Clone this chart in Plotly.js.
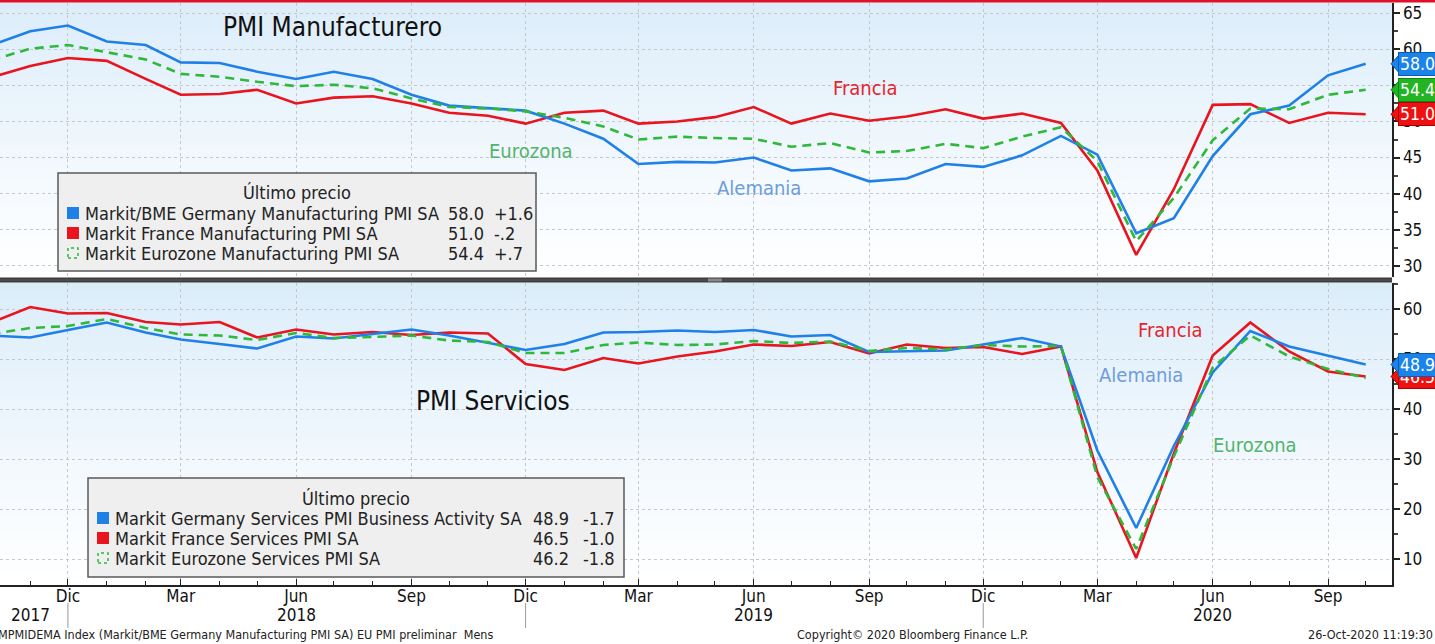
<!DOCTYPE html>
<html><head><meta charset="utf-8">
<script src="https://cdn.plot.ly/plotly-3.0.1.min.js"></script>
<style>html,body{margin:0;padding:0;background:#fff;overflow:hidden}</style>
</head><body><div id="chart" style="width:1435px;height:644px"></div>
<script>
// ---------- DATA ----------
const months = ['2017-10-01','2017-11-01','2017-12-01',
 '2018-01-01','2018-02-01','2018-03-01','2018-04-01','2018-05-01','2018-06-01','2018-07-01','2018-08-01','2018-09-01','2018-10-01','2018-11-01','2018-12-01',
 '2019-01-01','2019-02-01','2019-03-01','2019-04-01','2019-05-01','2019-06-01','2019-07-01','2019-08-01','2019-09-01','2019-10-01','2019-11-01','2019-12-01',
 '2020-01-01','2020-02-01','2020-03-01','2020-04-01','2020-05-01','2020-06-01','2020-07-01','2020-08-01','2020-09-01','2020-10-01'];

const germanyMfg  = [60.6,62.5,63.3, 61.1,60.6,58.2,58.1,56.9,55.9,56.9,55.9,53.7,52.2,51.8,51.5, 49.7,47.6,44.1,44.4,44.3,45.0,43.2,43.5,41.7,42.1,44.1,43.7, 45.3,48.0,45.4,34.5,36.6,45.2,51.0,52.2,56.4,58.0];
const franceMfg   = [56.1,57.7,58.8, 58.4,55.9,53.7,53.8,54.4,52.5,53.3,53.5,52.5,51.2,50.8,49.7, 51.2,51.5,49.7,50.0,50.6,52.0,49.7,51.1,50.1,50.7,51.7,50.4, 51.1,49.8,43.2,31.5,40.6,52.3,52.4,49.8,51.2,51.0];
const eurozoneMfg = [58.5,60.1,60.6, 59.6,58.6,56.6,56.2,55.5,54.9,55.1,54.6,53.2,52.0,51.8,51.4, 50.5,49.3,47.5,47.9,47.7,47.6,46.5,47.0,45.7,45.9,46.9,46.3, 47.9,49.2,44.5,33.4,39.4,47.4,51.8,51.7,53.7,54.4];

const germanySvc  = [54.7,54.3,55.8, 57.3,55.3,53.9,53.0,52.1,54.5,54.1,55.0,55.9,54.7,53.3,51.8, 53.0,55.3,55.4,55.7,55.4,55.8,54.5,54.8,51.4,51.6,51.7,52.9, 54.2,52.5,31.7,16.2,32.6,47.3,55.6,52.5,50.6,48.9];
const franceSvc   = [57.3,60.4,59.1, 59.2,57.4,56.9,57.4,54.3,55.9,54.9,55.4,54.8,55.3,55.1,49.0, 47.8,50.2,49.1,50.5,51.5,52.9,52.6,53.4,51.1,52.9,52.2,52.4, 51.0,52.5,27.4,10.2,31.1,50.7,57.3,51.5,47.5,46.5];
const eurozoneSvc = [55.0,56.2,56.6, 58.0,56.2,54.9,54.7,53.8,55.2,54.2,54.4,54.7,53.7,53.4,51.2, 51.2,52.8,53.3,52.8,52.9,53.6,53.2,53.5,51.6,52.2,51.9,52.8, 52.5,52.6,26.4,12.0,30.5,48.3,54.7,50.5,48.0,46.2];

const mfgNames = ['Markit/BME Germany Manufacturing PMI SA','Markit France Manufacturing PMI SA','Markit Eurozone Manufacturing PMI SA'];
const mfgLast  = ['58.0','51.0','54.4'];
const mfgChg   = ['+1.6','-.2','+.7'];
const svcNames = ['Markit Germany Services PMI Business Activity SA','Markit France Services PMI SA','Markit Eurozone Services PMI SA'];
const svcLast  = ['48.9','46.5','46.2'];
const svcChg   = ['-1.7','-1.0','-1.8'];

const tickDates  = ['2017-12-01','2018-03-01','2018-06-01','2018-09-01','2018-12-01','2019-03-01','2019-06-01','2019-09-01','2019-12-01','2020-03-01','2020-06-01','2020-09-01'];
const tickLabels = ['Dic','Mar','Jun','Sep','Dic','Mar','Jun','Sep','Dic','Mar','Jun','Sep'];
const yearLabels = ['2017','2018','2019','2020'];
const yearLabelDates = ['2017-11-01','2018-06-01','2019-06-01','2020-06-01'];
const yearSepDates = ['2017-12-01','2018-12-01','2019-12-01'];

// ---------- STYLE ----------
const FONT = '"DejaVu Sans Condensed","Liberation Sans Narrow","DejaVu Sans",sans-serif';
const BLUE = '#1f80e8', RED = '#e8141e', GREEN = '#2fb83a';
const W = 1435, H = 644, ML = 0, MR = 43, MT = 3, MB = 59;
const PW = W - ML - MR, PH = H - MT - MB;
const px = x => (x - ML) / PW;
const py = y => (H - MB - y) / PH;

const topDom = [py(277), 1];
const botDom = [0, py(283)];
const topRange = [28.43, 66.43], botRange = [4.8, 65.2];

function line(y, yaxis, color, dashed) {
  return {x: months, y: y, yaxis: yaxis, type: 'scatter', mode: 'lines',
    line: {color: color, width: 2.6, dash: dashed ? '9px,6px' : 'solid'},
    hoverinfo: 'skip', showlegend: false};
}
const traces = [
  line(franceMfg, 'y', RED, false), line(germanyMfg, 'y', BLUE, false), line(eurozoneMfg, 'y', GREEN, true),
  line(franceSvc, 'y2', RED, false), line(germanySvc, 'y2', BLUE, false), line(eurozoneSvc, 'y2', GREEN, true)
];

const shapes = [];
const annotations = [];

// gradient backgrounds
function gradient(dom) {
  const n = 40, top = [220, 237, 250], bot = [255, 255, 255];
  for (let i = 0; i < n; i++) {
    const t = (i + 0.5) / n; // 0 bottom -> 1 top
    const c = bot.map((b, k) => Math.round(b + (top[k] - b) * Math.pow(t, 1.1)));
    shapes.push({type: 'rect', xref: 'paper', yref: 'paper', layer: 'below',
      x0: 0, x1: 1, y0: dom[0] + (dom[1] - dom[0]) * i / n, y1: dom[0] + (dom[1] - dom[0]) * (i + 1) / n + 0.001,
      fillcolor: `rgb(${c[0]},${c[1]},${c[2]})`, line: {width: 0}});
  }
}
gradient(topDom); gradient(botDom);

// top red border
shapes.push({type: 'rect', xref: 'paper', yref: 'paper', x0: px(0), x1: px(W), y0: py(2.6), y1: py(-1), fillcolor: '#e0102a', line: {width: 0}});
// panel separator
shapes.push({type: 'rect', xref: 'paper', yref: 'paper', x0: px(0), x1: px(1392), y0: py(282.5), y1: py(277.5), fillcolor: '#3c3c3c', line: {width: 0}});
shapes.push({type: 'line', xref: 'paper', yref: 'paper', x0: px(0), x1: px(1392), y0: py(280), y1: py(280), line: {color: '#5a5a5a', width: 1}});
shapes.push({type: 'rect', xref: 'paper', yref: 'paper', x0: px(708), x1: px(722), y0: py(281.5), y1: py(278.5), fillcolor: '#888', line: {width: 0}});

// year separator ticks under axis
yearSepDates.forEach(d => shapes.push({type: 'line', xref: 'x', yref: 'paper', x0: d, x1: d, y0: py(603), y1: py(628), line: {color: '#999', width: 1}}));
yearLabels.forEach((t, i) => annotations.push({xref: 'x', yref: 'paper', x: yearLabelDates[i], y: py(615), text: t, showarrow: false,
  font: {family: FONT, size: 17, color: '#111'}, xanchor: 'center', yanchor: 'middle'}));

// legend boxes
function legendBox(x0, x1, y0, y1, names, last, chg, valRight, chgLeft) {
  shapes.push({type: 'rect', xref: 'paper', yref: 'paper', layer: 'above', x0: px(x0), x1: px(x1), y0: py(y1), y1: py(y0),
    fillcolor: 'rgba(238,238,238,0.96)', line: {color: '#5a5a5a', width: 1.5}});
  annotations.push({xref: 'paper', yref: 'paper', x: px((x0 + x1) / 2), y: py(y0 + 20), text: 'Último precio', showarrow: false,
    font: {family: FONT, size: 18, color: '#222'}, xanchor: 'center', yanchor: 'middle'});
  const cols = [BLUE, RED, GREEN];
  names.forEach((n, i) => {
    const yc = y0 + 40 + 20 * i;
    const mx = x0 + 9;
    if (i < 2) {
      shapes.push({type: 'rect', xref: 'paper', yref: 'paper', layer: 'above', x0: px(mx), x1: px(mx + 12), y0: py(yc + 6), y1: py(yc - 6),
        fillcolor: cols[i], line: {width: 0}});
    } else {
      shapes.push({type: 'rect', xref: 'paper', yref: 'paper', layer: 'above', x0: px(mx + 1), x1: px(mx + 11), y0: py(yc + 5), y1: py(yc - 5),
        fillcolor: 'rgba(0,0,0,0)', line: {color: GREEN, width: 1.5, dash: 'dot'}});
    }
    annotations.push({xref: 'paper', yref: 'paper', x: px(mx + 16), y: py(yc), text: n, showarrow: false,
      font: {family: FONT, size: 18, color: '#222'}, xanchor: 'left', yanchor: 'middle'});
    annotations.push({xref: 'paper', yref: 'paper', x: px(valRight), y: py(yc), text: last[i], showarrow: false,
      font: {family: FONT, size: 18, color: '#222'}, xanchor: 'right', yanchor: 'middle'});
    annotations.push({xref: 'paper', yref: 'paper', x: px(chgLeft), y: py(yc), text: chg[i], showarrow: false,
      font: {family: FONT, size: 18, color: '#222'}, xanchor: 'left', yanchor: 'middle'});
  });
}
legendBox(58, 536, 173, 271, mfgNames, mfgLast, mfgChg, 486, 492);
legendBox(88, 624, 478, 577, svcNames, svcLast, svcChg, 571, 581);

// titles
annotations.push({xref: 'paper', yref: 'paper', x: px(332), y: py(27), text: 'PMI Manufacturero', showarrow: false,
  font: {family: FONT, size: 26, color: '#111'}, xanchor: 'center', yanchor: 'middle'});
annotations.push({xref: 'paper', yref: 'paper', x: px(493), y: py(401), text: 'PMI Servicios', showarrow: false,
  font: {family: FONT, size: 26, color: '#111'}, xanchor: 'center', yanchor: 'middle'});

// series labels
function lab(t, x, y, c) {
  annotations.push({xref: 'paper', yref: 'paper', x: px(x), y: py(y), text: t, showarrow: false,
    font: {family: FONT, size: 20, color: c}, xanchor: 'center', yanchor: 'middle'});
}
const LRED = '#e3262e', LGREEN = '#52b46e', LBLUE = '#6e9cdc';
lab('Francia', 865, 88, LRED); lab('Eurozona', 531, 151, LGREEN); lab('Alemania', 759, 188, LBLUE);
lab('Francia', 1170, 330, LRED); lab('Alemania', 1141, 375, LBLUE); lab('Eurozona', 1255, 445, LGREEN);

// last-value tags on the right axis (pointer + box)
function tag(val, yref, color, border, unitsPerPx) {
  const h = 10 * unitsPerPx;
  shapes.push({type: 'path', xref: 'paper', yref: yref, layer: 'above',
    path: `M ${px(1391)},${val} L ${px(1400)},${val + h} L ${px(1400)},${val - h} Z`,
    fillcolor: color, line: {color: border, width: 1}});
  annotations.push({xref: 'paper', yref: yref, x: px(1398), y: val, text: val.toFixed(1) + '  ', showarrow: false,
    font: {family: FONT, size: 17.5, color: '#fff'}, xanchor: 'left', yanchor: 'middle', align: 'left',
    bgcolor: color, bordercolor: border, borderwidth: 1, borderpad: 1});
}
const topUPP = (topRange[1] - topRange[0]) / ((topDom[1] - topDom[0]) * PH);
const botUPP = (botRange[1] - botRange[0]) / ((botDom[1] - botDom[0]) * PH);
tag(franceMfg[franceMfg.length - 1], 'y', '#ee1111', '#a00', topUPP);
tag(eurozoneMfg[eurozoneMfg.length - 1], 'y', '#22b422', '#118811', topUPP);
tag(germanyMfg[germanyMfg.length - 1], 'y', '#1a84ea', '#0d5bb0', topUPP);
tag(franceSvc[franceSvc.length - 1], 'y2', '#ee1111', '#a00', botUPP);
tag(germanySvc[germanySvc.length - 1], 'y2', '#1a84ea', '#0d5bb0', botUPP);

// footer
annotations.push({xref: 'paper', yref: 'paper', x: px(-4), y: py(634), text: 'MPMIDEMA Index (Markit/BME Germany Manufacturing PMI SA) EU PMI preliminar  Mens',
  showarrow: false, font: {family: FONT, size: 12.5, color: '#222'}, xanchor: 'left', yanchor: 'middle'});
annotations.push({xref: 'paper', yref: 'paper', x: px(912), y: py(634), text: 'Copyright© 2020 Bloomberg Finance L.P.',
  showarrow: false, font: {family: FONT, size: 12.5, color: '#222'}, xanchor: 'center', yanchor: 'middle'});
annotations.push({xref: 'paper', yref: 'paper', x: px(1435), y: py(634), text: '26-Oct-2020 11:19:30',
  showarrow: false, font: {family: FONT, size: 12.5, color: '#222'}, xanchor: 'right', yanchor: 'middle'});

const gridStyle = {showgrid: true, gridcolor: '#c4c8cc', griddash: 'dot', gridwidth: 1};
const layout = {
  width: W, height: H,
  margin: {l: ML, r: MR, t: MT, b: MB, pad: 0},
  paper_bgcolor: '#ffffff', plot_bgcolor: 'rgba(0,0,0,0)',
  showlegend: false,
  font: {family: FONT, size: 16, color: '#111'},
  xaxis: Object.assign({
    type: 'date', anchor: 'y2', range: ['2017-10-07 20:00', '2020-10-22'],
    tickmode: 'array', tickvals: tickDates, ticktext: tickLabels,
    ticks: 'inside', ticklen: 6, tickcolor: '#222', tickwidth: 1, ticklabelstandoff: -5,
    minor: {dtick: 'M1', tick0: '2017-10-01', ticks: 'inside', ticklen: 4, tickcolor: '#222', showgrid: false},
    showline: true, linecolor: '#222', linewidth: 1.5, mirror: false,
    tickfont: {family: FONT, size: 17, color: '#111'}, zeroline: false, fixedrange: true
  }, gridStyle),
  yaxis: Object.assign({
    domain: topDom, side: 'right', range: topRange, tickvals: [30, 35, 40, 45, 50, 55, 60, 65], anchor: 'x',
    ticks: 'outside', ticklen: 6, tickwidth: 2, tickcolor: '#222',
    minor: {tickvals: [32.5, 37.5, 42.5, 47.5, 52.5, 57.5, 62.5], ticks: 'outside', ticklen: 4, tickcolor: '#444', showgrid: false},
    showline: true, linecolor: '#222', linewidth: 1.5, zeroline: false,
    tickfont: {family: FONT, size: 17, color: '#111'}, fixedrange: true
  }, gridStyle),
  yaxis2: Object.assign({
    domain: botDom, side: 'right', range: botRange, tickvals: [10, 20, 30, 40, 50, 60], anchor: 'x',
    ticks: 'outside', ticklen: 6, tickwidth: 2, tickcolor: '#222',
    minor: {tickvals: [15, 25, 35, 45, 55, 65], ticks: 'outside', ticklen: 4, tickcolor: '#444', showgrid: false},
    showline: true, linecolor: '#222', linewidth: 1.5, zeroline: false,
    tickfont: {family: FONT, size: 17, color: '#111'}, fixedrange: true
  }, gridStyle),
  shapes: shapes,
  annotations: annotations
};
Plotly.newPlot('chart', traces, layout, {displayModeBar: false, staticPlot: true});
</script>
</body></html>
